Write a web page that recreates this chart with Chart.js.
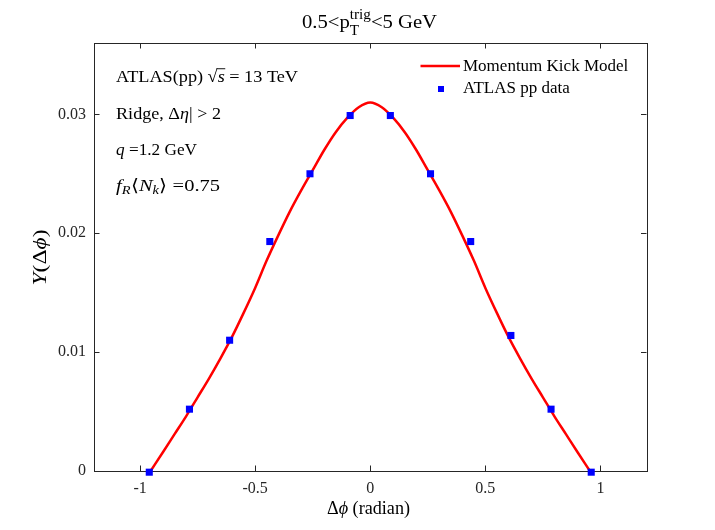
<!DOCTYPE html>
<html>
<head>
<meta charset="utf-8">
<script src="https://cdn.jsdelivr.net/npm/chart.js@4/dist/chart.umd.min.js"></script>
<style>
  html, body { margin: 0; padding: 0; background: #ffffff; }
  #wrap { width: 715px; height: 530px; }
</style>
</head>
<body>
<div id="wrap"><canvas id="c" width="715" height="530"></canvas></div>
<script>
// ---- data ----
const curveX = [-0.954, -0.90, -0.85, -0.80, -0.75, -0.70, -0.65, -0.60, -0.55, -0.50, -0.45, -0.40, -0.35, -0.30, -0.25, -0.20, -0.15, -0.10, -0.05, 0.00,
                 0.05, 0.10, 0.15, 0.20, 0.25, 0.30, 0.35, 0.40, 0.45, 0.50, 0.55, 0.60, 0.65, 0.70, 0.75, 0.80, 0.85, 0.90, 0.954];
const curveY = [0.0000, 0.0016, 0.0031, 0.0046, 0.0062, 0.0078, 0.0095, 0.0113, 0.0133, 0.0154, 0.0177, 0.0198, 0.0218, 0.0236, 0.0253, 0.0270, 0.0285, 0.0297, 0.0306, 0.0310,
                 0.0306, 0.0297, 0.0285, 0.0270, 0.0253, 0.0236, 0.0218, 0.0198, 0.0177, 0.0154, 0.0133, 0.0113, 0.0095, 0.0078, 0.0062, 0.0046, 0.0031, 0.0016, 0.0000];
const dataX = [-0.9599, -0.7854, -0.6109, -0.4363, -0.2618, -0.0873, 0.0873, 0.2618, 0.4363, 0.6109, 0.7854, 0.9599];
const dataY = [-0.0001, 0.0052, 0.0110, 0.0193, 0.0250, 0.0299, 0.0299, 0.0250, 0.0193, 0.0114, 0.0052, -0.0001];
const xTicks = [-1, -0.5, 0, 0.5, 1];
const yTicks = [0, 0.01, 0.02, 0.03];
const xTickLabels = ["-1", "-0.5", "0", "0.5", "1"];
const yTickLabels = ["0", "0.01", "0.02", "0.03"];
const seriesNames = ["Momentum Kick Model", "ATLAS pp data"];

const SERIF = '"Liberation Serif", "Times New Roman", serif';
const AX = '#262626';

function fontOf(seg) {
  return (seg.it ? 'italic ' : '') + (seg.s || 17) + 'px ' + SERIF;
}
function drawRich(ctx, segs, x, y, align, targetW) {
  let total = 0, pending = null;
  const widths = [];
  for (const seg of segs) {
    ctx.font = fontOf(seg);
    let w = ctx.measureText(seg.t).width;
    widths.push(w);
    if (seg.keep) { pending = w; continue; }
    if (pending !== null) { w = Math.max(w, pending); pending = null; }
    total += w;
  }
  const sc = targetW ? targetW / total : 1;
  let sx = x;
  if (align === 'center') sx = x - total * sc / 2;
  ctx.save();
  ctx.translate(sx, y);
  ctx.scale(sc, 1);
  let cx = 0; pending = null;
  segs.forEach((seg, i) => {
    ctx.font = fontOf(seg);
    ctx.fillText(seg.t, cx, seg.dy || 0);
    let w = widths[i];
    if (seg.ov) {
      const s = seg.s || 17;
      ctx.save();
      ctx.strokeStyle = ctx.fillStyle;
      ctx.lineWidth = 0.9;
      ctx.beginPath();
      ctx.moveTo(cx - 1, (seg.dy || 0) - s * 0.78);
      ctx.lineTo(cx + w + 0.5, (seg.dy || 0) - s * 0.78);
      ctx.stroke();
      ctx.restore();
    }
    if (seg.keep) { pending = w; return; }
    if (pending !== null) { w = Math.max(w, pending); pending = null; }
    cx += w;
  });
  ctx.restore();
}

const decor = {
  id: 'decor',
  beforeDatasetsDraw(chart) {
    const ctx = chart.ctx, a = chart.chartArea;
    const xs = chart.scales.x, ys = chart.scales.y;
    ctx.save();
    ctx.strokeStyle = AX;
    ctx.lineWidth = 1;
    ctx.strokeRect(Math.round(a.left) + 0.5, Math.round(a.top) + 0.5, Math.round(a.right - a.left), Math.round(a.bottom - a.top));
    const tl = 5.5;
    ctx.beginPath();
    xTicks.forEach(v => {
      const px = Math.round(xs.getPixelForValue(v)) + 0.5;
      ctx.moveTo(px, a.bottom); ctx.lineTo(px, a.bottom - tl);
      ctx.moveTo(px, a.top); ctx.lineTo(px, a.top + tl);
    });
    yTicks.forEach(v => {
      const py = Math.round(ys.getPixelForValue(v)) + 0.5;
      ctx.moveTo(a.left, py); ctx.lineTo(a.left + tl, py);
      ctx.moveTo(a.right, py); ctx.lineTo(a.right - tl, py);
    });
    ctx.stroke();
    ctx.restore();
  },
  afterDraw(chart) {
    const ctx = chart.ctx;
    ctx.save();
    ctx.fillStyle = '#000000';
    ctx.textBaseline = 'alphabetic';
    // title
    drawRich(ctx, [
      {t: '0.5<p', s: 19},
      {t: 'trig', s: 14, dy: -9, keep: true},
      {t: 'T', s: 14, dy: 7},
      {t: '<5 GeV', s: 19}
    ], 369.5, 28, 'center', 135);
    // annotations
    drawRich(ctx, [
      {t: 'ATLAS(pp) ', s: 17}, {t: '\u221A', s: 17}, {t: 's', s: 17, it: true, ov: true}, {t: ' = 13 TeV', s: 17}
    ], 116, 82, 'left', 182);
    drawRich(ctx, [
      {t: 'Ridge, ', s: 17}, {t: '\u0394', s: 17}, {t: '\u03B7', s: 17, it: true}, {t: '| > 2', s: 17}
    ], 116, 118.5, 'left', 105);
    drawRich(ctx, [
      {t: 'q', s: 17, it: true}, {t: ' =1.2 GeV', s: 17}
    ], 116, 154.5, 'left', 81);
    drawRich(ctx, [
      {t: 'f', s: 17, it: true}, {t: 'R', s: 12, it: true, dy: 3}, {t: '\u27E8', s: 17}, {t: 'N', s: 17, it: true},
      {t: 'k', s: 12, it: true, dy: 3}, {t: '\u27E9 =0.75', s: 17}
    ], 116, 190.5, 'left', 104);
    // x label
    drawRich(ctx, [
      {t: '\u0394', s: 18}, {t: '\u03D5', s: 18, it: true}, {t: ' (radian)', s: 18}
    ], 368.5, 514, 'center', 83);
    // y label (rotated)
    ctx.save();
    ctx.translate(46, 257.5);
    ctx.rotate(-Math.PI / 2);
    drawRich(ctx, [
      {t: 'Y', s: 19, it: true}, {t: '(', s: 19}, {t: '\u0394', s: 19}, {t: '\u03D5', s: 19, it: true}, {t: ')', s: 19}
    ], 0, 0, 'center', 56);
    ctx.restore();
    // legend
    ctx.strokeStyle = '#FF0000';
    ctx.lineWidth = 2.5;
    ctx.beginPath();
    ctx.moveTo(420.5, 66); ctx.lineTo(460, 66);
    ctx.stroke();
    ctx.fillStyle = '#0000FF';
    ctx.fillRect(438, 86, 6, 6);
    ctx.fillStyle = '#000000';
    ctx.textBaseline = 'middle';
    ctx.font = '17px ' + SERIF;
    ctx.fillText(seriesNames[0], 463, 66.5);
    ctx.fillText(seriesNames[1], 463, 88.5);
    ctx.restore();
  }
};

new Chart(document.getElementById('c'), {
  data: {
    datasets: [
      {
        type: 'line',
        label: seriesNames[0],
        data: curveX.map((x, i) => ({x: x, y: curveY[i]})),
        borderColor: '#FF0000',
        borderWidth: 2.5,
        pointRadius: 0,
        cubicInterpolationMode: 'monotone',
        fill: false,
        order: 1
      },
      {
        type: 'scatter',
        label: seriesNames[1],
        data: dataX.map((x, i) => ({x: x, y: dataY[i]})),
        pointStyle: 'rect',
        pointRadius: 5,
        backgroundColor: '#0000FF',
        borderWidth: 0,
        clip: false,
        order: 0
      }
    ]
  },
  options: {
    responsive: false,
    animation: false,
    devicePixelRatio: 1,
    layout: { padding: { left: 0, top: 43, right: 68.5, bottom: 0 } },
    plugins: { legend: { display: false }, tooltip: { enabled: false }, title: { display: false } },
    scales: {
      x: {
        type: 'linear', min: -1.2, max: 1.2,
        afterBuildTicks: s => { s.ticks = xTicks.map(v => ({value: v})); },
        afterFit: s => { s.height = 59; },
        grid: { display: false, drawTicks: false },
        border: { display: false },
        ticks: {
          color: AX, padding: 8, maxRotation: 0, autoSkip: false,
          font: { family: SERIF, size: 16 },
          callback: (v) => { const i = xTicks.indexOf(v); return i >= 0 ? xTickLabels[i] : ''; }
        }
      },
      y: {
        type: 'linear', min: 0, max: 0.036,
        afterBuildTicks: s => { s.ticks = yTicks.map(v => ({value: v})); },
        afterFit: s => { s.width = 94; },
        grid: { display: false, drawTicks: false },
        border: { display: false },
        ticks: {
          color: AX, padding: 8, autoSkip: false,
          font: { family: SERIF, size: 16 },
          callback: (v) => { const i = yTicks.indexOf(v); return i >= 0 ? yTickLabels[i] : ''; }
        }
      }
    }
  },
  plugins: [decor]
});
</script>
</body>
</html>
